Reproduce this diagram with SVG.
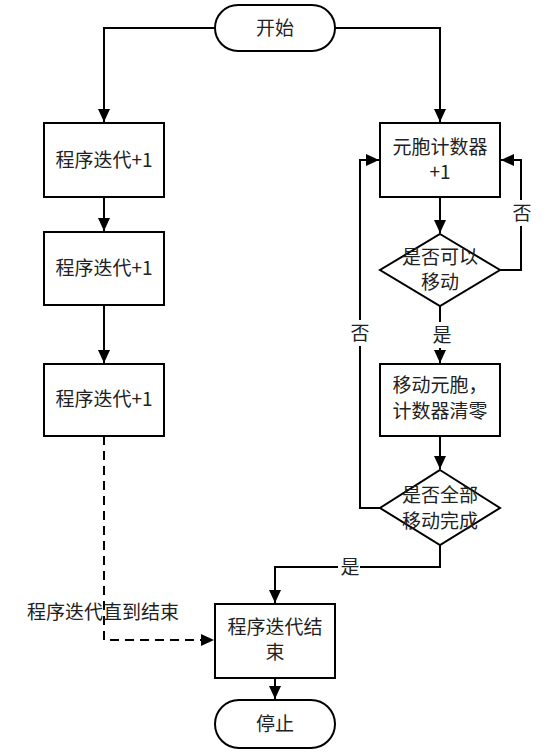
<svg xmlns="http://www.w3.org/2000/svg" width="552" height="752" viewBox="0 0 552 752">
<style>
.s{fill:#fff;stroke:#000;stroke-width:2}
.t{font-family:"Noto Sans CJK SC","Liberation Sans",sans-serif;font-size:19px;fill:#222;text-anchor:middle}
.c{fill:none;stroke:#000;stroke-width:2}
.d{stroke-dasharray:9,6}
.lb{fill:#fff;stroke:none}
</style>
<defs>
<marker id="a" markerUnits="userSpaceOnUse" markerWidth="14" markerHeight="12" refX="13" refY="6" orient="auto">
<path d="M0,0 L13,6 L0,12 z" fill="#000"/>
</marker>
</defs>
<g id="connectors">
<path class="c" d="M215,28 H104 V122" marker-end="url(#a)"/>
<path class="c" d="M335,28 H440 V122" marker-end="url(#a)"/>
<path class="c" d="M104,197 V231" marker-end="url(#a)"/>
<path class="c" d="M104,305 V363" marker-end="url(#a)"/>
<path class="c d" d="M104,436 V640 H214" marker-end="url(#a)"/>
<path class="c" d="M440,197 V233" marker-end="url(#a)"/>
<path class="c" d="M500,270 H521 V160 H501" marker-end="url(#a)"/>
<path class="c" d="M440,306 V363" marker-end="url(#a)"/>
<path class="c" d="M440,436 V469" marker-end="url(#a)"/>
<path class="c" d="M380,508 H360 V160 H379" marker-end="url(#a)"/>
<path class="c" d="M440,545 V567 H275 V603" marker-end="url(#a)"/>
<path class="c" d="M275,678 V699" marker-end="url(#a)"/>
<rect class="lb" x="511" y="200" width="22" height="26"/>
<text class="t" x="522" y="220">否</text>
<rect class="lb" x="349" y="320" width="22" height="26"/>
<text class="t" x="360" y="340">否</text>
<rect class="lb" x="430" y="322" width="22" height="26"/>
<text class="t" x="442" y="342">是</text>
<rect class="lb" x="338" y="555" width="22" height="26"/>
<text class="t" x="350" y="574">是</text>
<text class="t" x="103" y="619">程序迭代直到结束</text>
</g>
<g id="start"><rect class="s" x="215" y="5" width="120" height="46" rx="23"/><text class="t" x="275" y="35">开始</text></g>
<g id="iter1"><rect class="s" x="44" y="123" width="120" height="74"/><text class="t" x="104" y="167">程序迭代+1</text></g>
<g id="iter2"><rect class="s" x="44" y="232" width="120" height="73"/><text class="t" x="104" y="275">程序迭代+1</text></g>
<g id="iter3"><rect class="s" x="44" y="364" width="120" height="72"/><text class="t" x="104" y="406">程序迭代+1</text></g>
<g id="counter"><rect class="s" x="380" y="123" width="120" height="74"/><text class="t" x="440" y="154">元胞计数器</text><text class="t" x="440" y="179">+1</text></g>
<g id="canmove"><path class="s" d="M440,234 L500,270 L440,306 L380,270 z"/><text class="t" x="440" y="264">是否可以</text><text class="t" x="440" y="289">移动</text></g>
<g id="move"><rect class="s" x="380" y="364" width="120" height="72"/><text class="t" x="440" y="392">移动元胞，</text><text class="t" x="440" y="418">计数器清零</text></g>
<g id="alldone"><path class="s" d="M440,470 L500,508 L440,545 L380,508 z"/><text class="t" x="440" y="502">是否全部</text><text class="t" x="440" y="528">移动完成</text></g>
<g id="iterend"><rect class="s" x="215" y="604" width="120" height="74"/><text class="t" x="275" y="634">程序迭代结</text><text class="t" x="275" y="659">束</text></g>
<g id="stop"><rect class="s" x="215" y="700" width="120" height="48" rx="24"/><text class="t" x="275" y="731">停止</text></g>
</svg>
